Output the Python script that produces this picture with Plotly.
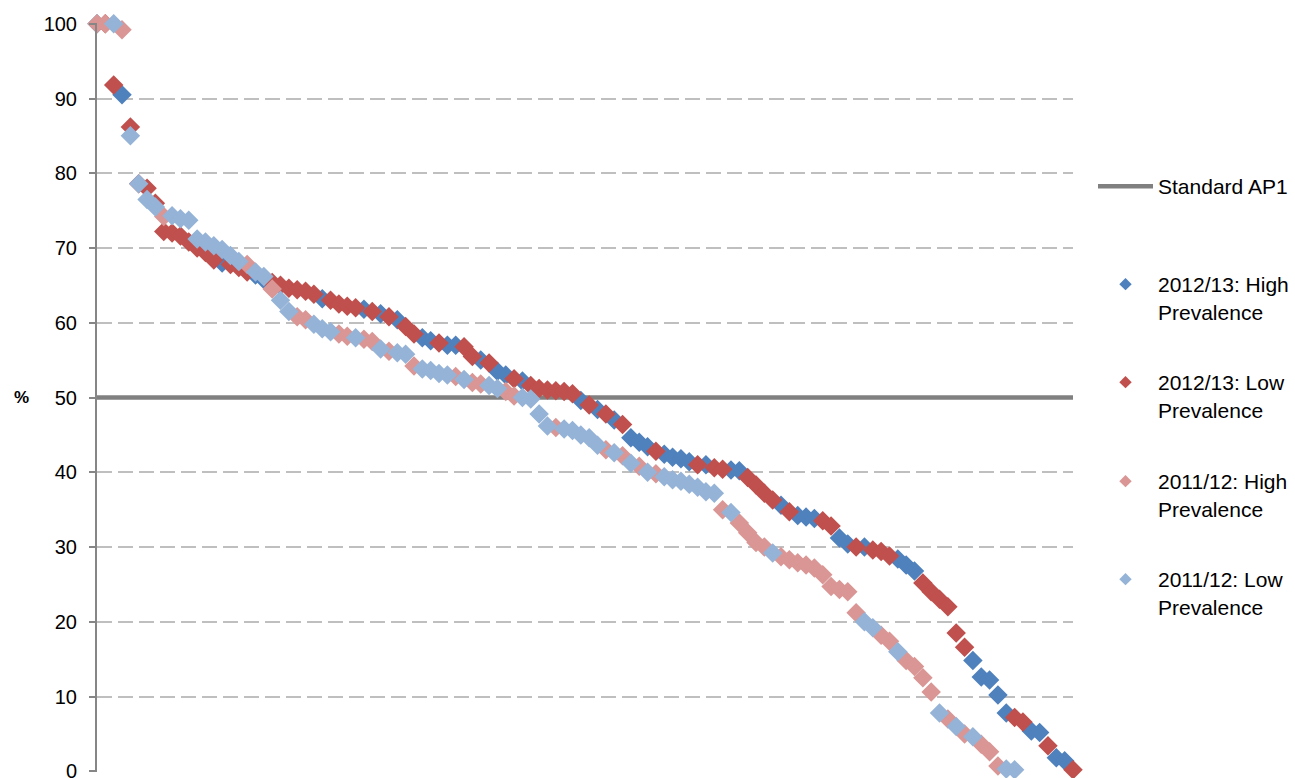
import plotly.graph_objects as go

# ---------------- data ----------------
# 2012/13 trusts ranked from highest to lowest %; flag = prevalence group
vals_1213 = [100, 100, 91.8, 90.5, 86.2, 78.6, 78.0, 76.0, 72.2, 72.0,
             71.6, 70.8, 70.0, 69.4, 68.4, 68.0, 67.8, 67.4, 66.8, 66.4,
             65.8, 65.4, 65.0, 64.6, 64.4, 64.2, 63.8, 63.2, 63.0, 62.5,
             62.2, 62.0, 61.8, 61.5, 61.2, 60.8, 60.4, 59.5, 58.5, 58.0,
             57.6, 57.3, 57.0, 57.0, 56.8, 55.5, 55.0, 54.6, 53.5, 53.0,
             52.5, 52.2, 51.6, 51.2, 51.0, 50.9, 50.8, 50.5, 49.6, 49.0,
             48.4, 47.8, 47.0, 46.4, 44.6, 44.0, 43.4, 42.8, 42.4, 42.0,
             41.8, 41.4, 41.0, 41.0, 40.6, 40.4, 40.3, 40.2, 39.3, 38.3,
             37.2, 36.3, 35.6, 34.7, 34.2, 34.0, 33.8, 33.5, 32.8, 31.2,
             30.4, 30.0, 30.0, 29.6, 29.4, 28.8, 28.4, 27.6, 26.8, 25.2,
             24.0, 23.0, 22.0, 18.5, 16.6, 14.8, 12.6, 12.2, 10.2, 7.8,
             7.2, 6.6, 5.4, 5.2, 3.4, 1.8, 1.4, 0.2]
prev_1213 = ["H", "L", "L", "H", "L", "L", "L", "L", "L", "L",
             "L", "L", "L", "L", "L", "H", "L", "L", "L", "H",
             "H", "L", "L", "L", "L", "L", "L", "H", "L", "L",
             "L", "L", "H", "L", "H", "L", "H", "L", "L", "H",
             "H", "L", "H", "H", "L", "L", "H", "L", "H", "H",
             "L", "H", "L", "L", "L", "L", "L", "L", "H", "L",
             "H", "L", "H", "L", "H", "H", "H", "L", "H", "H",
             "H", "H", "L", "H", "L", "L", "H", "H", "L", "L",
             "L", "L", "H", "L", "H", "H", "H", "L", "L", "H",
             "H", "L", "H", "L", "L", "L", "H", "H", "H", "L",
             "L", "L", "L", "L", "L", "H", "H", "H", "H", "H",
             "L", "L", "H", "H", "L", "H", "H", "L"]

# 2011/12 trusts ranked from highest to lowest %
vals_1112 = [100, 100, 100, 99.2, 85.0, 78.6, 76.5, 75.5, 74.2, 74.3,
             73.9, 73.7, 71.2, 70.8, 70.3, 69.8, 69.0, 68.2, 67.8, 66.8,
             66.2, 64.5, 63.0, 61.5, 60.8, 60.4, 59.8, 59.2, 58.8, 58.5,
             58.2, 58.0, 57.8, 57.5, 56.5, 56.2, 56.0, 55.8, 54.2, 53.8,
             53.6, 53.2, 53.0, 52.8, 52.4, 52.0, 51.8, 51.6, 51.2, 50.8,
             50.2, 50.0, 49.8, 47.8, 46.2, 46.0, 45.8, 45.6, 45.0, 44.6,
             43.6, 43.0, 42.6, 42.2, 41.2, 40.8, 40.0, 39.8, 39.4, 39.0,
             38.8, 38.4, 38.0, 37.4, 37.2, 35.0, 34.6, 33.2, 31.9, 30.6,
             30.0, 29.2, 28.7, 28.3, 27.9, 27.6, 27.2, 26.3, 24.7, 24.3,
             24.0, 21.2, 20.0, 19.2, 18.2, 17.4, 16.0, 14.8, 14.0, 12.5,
             10.6, 7.8, 7.0, 6.0, 5.0, 4.6, 3.6, 2.6, 0.7, 0.3,
             0.2]
prev_1112 = ["H", "H", "L", "H", "L", "L", "L", "L", "H", "L",
             "L", "L", "L", "L", "L", "L", "L", "L", "H", "L",
             "L", "H", "L", "L", "H", "H", "L", "L", "L", "H",
             "H", "L", "H", "H", "L", "H", "L", "L", "H", "L",
             "L", "L", "L", "H", "L", "H", "H", "L", "L", "H",
             "H", "L", "L", "L", "L", "H", "L", "L", "L", "L",
             "L", "H", "L", "H", "L", "H", "L", "H", "L", "L",
             "L", "L", "L", "L", "L", "H", "L", "H", "H", "H",
             "H", "L", "H", "H", "H", "H", "H", "H", "H", "H",
             "H", "H", "L", "L", "H", "H", "L", "H", "H", "H",
             "H", "L", "H", "L", "H", "L", "H", "H", "H", "L",
             "L"]

standard_ap1 = 50
y_ticks = [0, 10, 20, 30, 40, 50, 60, 70, 80, 90, 100]

series_names = ["2012/13: High<br>Prevalence", "2012/13: Low<br>Prevalence",
                "2011/12: High<br>Prevalence", "2011/12: Low<br>Prevalence"]
series_colors = ["#4F81BD", "#C0504D", "#D99694", "#95B3D7"]


def split(vals, flags, flag):
    xs = [i + 1 for i, f in enumerate(flags) if f == flag]
    ys = [v for v, f in zip(vals, flags) if f == flag]
    return xs, ys


series_data = [split(vals_1213, prev_1213, "H"), split(vals_1213, prev_1213, "L"),
               split(vals_1112, prev_1112, "H"), split(vals_1112, prev_1112, "L")]

n_ranks = max(len(vals_1213), len(vals_1112))

FONT = "Arial, Liberation Sans, sans-serif"

fig = go.Figure()

# Standard line
fig.add_trace(go.Scatter(
    x=[1, n_ranks], y=[standard_ap1, standard_ap1], mode="lines",
    line=dict(color="#808080", width=4.5), name="Standard AP1",
    legend="legend", showlegend=True, hoverinfo="skip"))

for (xs, ys), name, col in zip(series_data, series_names, series_colors):
    fig.add_trace(go.Scatter(
        x=xs, y=ys, mode="markers", name=name, showlegend=False,
        marker=dict(symbol="diamond", size=15, color=col, line=dict(width=0)),
        cliponaxis=False))

# small legend markers
legend_ids = ["legend2", "legend3", "legend4", "legend5"]
for name, col, lg in zip(series_names, series_colors, legend_ids):
    fig.add_trace(go.Scatter(
        x=[None], y=[None], mode="markers", name=name, legend=lg,
        marker=dict(symbol="diamond", size=9.5, color=col, line=dict(width=0))))

PX_L, PW, PX_T, PH = 97, 976, 23, 749
Y0, Y1 = -0.1, 100.1


def px_x(p):
    return (p - PX_L) / PW


def px_y(p):
    return 1 - (p - PX_T) / PH


leg_common = dict(font=dict(family=FONT, size=21, color="#000000"),
                  bgcolor="rgba(0,0,0,0)", borderwidth=0, itemwidth=55,
                  xanchor="left", yanchor="top", valign="top",
                  itemclick=False, itemdoubleclick=False)
leg_tops = [166, 264, 362, 461, 559]
layout_legends = {}
for i, top in enumerate(leg_tops):
    key = "legend" if i == 0 else "legend%d" % (i + 1)
    layout_legends[key] = dict(x=px_x(1093), y=px_y(top), **leg_common)

fig.update_layout(
    width=1295, height=778, autosize=False,
    margin=dict(l=PX_L, r=1295 - PX_L - PW, t=PX_T, b=778 - PX_T - PH,
                autoexpand=False),
    paper_bgcolor="white", plot_bgcolor="white",
    font=dict(family=FONT, size=20, color="#000000"),
    xaxis=dict(range=[1, n_ranks], visible=False, automargin=False),
    yaxis=dict(range=[Y0, Y1], tickvals=y_ticks, ticktext=[str(t) for t in y_ticks],
               showgrid=True, gridcolor="#BFBFBF", gridwidth=2, griddash="15px,6px",
               showline=True, linecolor="#868686", linewidth=2,
               ticks="outside", ticklen=6, tickcolor="#868686", tickwidth=2,
               ticklabelstandoff=8, ticklabeloverflow="allow", automargin=False,
               zeroline=False, tickfont=dict(family=FONT, size=20, color="#000000")),
    annotations=[dict(text="<b>%</b>", x=px_x(21), y=50, xref="paper", yref="y",
                      xanchor="center", yanchor="middle", showarrow=False,
                      font=dict(family=FONT, size=17, color="#000000"))],
    **layout_legends,
)

fig.write_html("out.html")
